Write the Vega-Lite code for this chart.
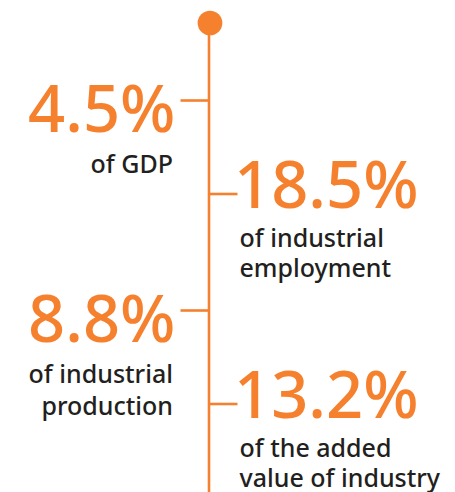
{
  "$schema": "https://vega.github.io/schema/vega-lite/v6.json",
  "width": 455,
  "height": 492,
  "padding": 0,
  "autosize": {"type": "none"},
  "background": "white",
  "config": {"view": {"stroke": null}},
  "data": {
    "values": [
      {"order": 1, "side": "left", "value": "4.5%", "label": ["of GDP"]},
      {"order": 2, "side": "right", "value": "18.5%", "label": ["of industrial", "employment"]},
      {"order": 3, "side": "left", "value": "8.8%", "label": ["of industrial", "production"]},
      {"order": 4, "side": "right", "value": "13.2%", "label": ["of the added", "value of industry"]}
    ]
  },
  "layer": [
    {
      "data": {"values": [{"part": "spine"}]},
      "mark": {"type": "rule", "color": "#F5812F", "strokeWidth": 2.6},
      "encoding": {
        "x": {"datum": 0, "type": "quantitative", "scale": {"domain": [-1, 1], "range": [180.5, 237.5], "nice": false, "zero": false}, "axis": null},
        "y": {"datum": 0.262, "type": "quantitative", "scale": {"domain": [1, 3], "range": [100.5, 310.5], "nice": false, "zero": false}, "axis": null},
        "y2": {"datum": 4.75}
      }
    },
    {
      "data": {"values": [{"part": "dot"}]},
      "mark": {"type": "point", "filled": true, "color": "#F5812F", "opacity": 1, "size": 610, "xOffset": 1},
      "encoding": {
        "x": {"datum": 0, "type": "quantitative"},
        "y": {"datum": 0.262, "type": "quantitative"}
      }
    },
    {
      "transform": [{"filter": "datum.side === 'left'"}],
      "mark": {"type": "rule", "color": "#F5812F", "strokeWidth": 2.6},
      "encoding": {
        "x": {"datum": -1, "type": "quantitative"},
        "x2": {"datum": 0},
        "y": {"field": "order", "type": "quantitative"}
      }
    },
    {
      "transform": [{"filter": "datum.side === 'right'"}],
      "mark": {"type": "rule", "color": "#F5812F", "strokeWidth": 2.6, "yOffset": -11.5},
      "encoding": {
        "x": {"datum": 0, "type": "quantitative"},
        "x2": {"datum": 1},
        "y": {"field": "order", "type": "quantitative"}
      }
    },
    {
      "transform": [{"filter": "datum.side === 'left'"}],
      "mark": {"type": "text", "font": "Noto Sans", "fontSize": 65, "fontWeight": 500, "color": "#F5812F", "align": "right", "baseline": "alphabetic", "dx": -33.5, "dy": 31},
      "encoding": {
        "x": {"datum": 0, "type": "quantitative"},
        "y": {"field": "order", "type": "quantitative"},
        "text": {"field": "value", "type": "nominal"}
      }
    },
    {
      "transform": [{"filter": "datum.side === 'right'"}],
      "mark": {"type": "text", "font": "Noto Sans", "fontSize": 65, "fontWeight": 500, "color": "#F5812F", "align": "left", "baseline": "alphabetic", "dx": 25, "dy": 2.5},
      "encoding": {
        "x": {"datum": 0, "type": "quantitative"},
        "y": {"field": "order", "type": "quantitative"},
        "text": {"field": "value", "type": "nominal"}
      }
    },
    {
      "transform": [{"filter": "datum.side === 'left'"}],
      "mark": {"type": "text", "font": "Noto Sans", "fontSize": 25, "fontWeight": 500, "color": "#231F20", "align": "right", "baseline": "alphabetic", "dx": -36, "dy": 72.5, "lineHeight": 32},
      "encoding": {
        "x": {"datum": 0, "type": "quantitative"},
        "y": {"field": "order", "type": "quantitative"},
        "text": {"field": "label", "type": "nominal"}
      }
    },
    {
      "transform": [{"filter": "datum.side === 'right'"}],
      "mark": {"type": "text", "font": "Noto Sans", "fontSize": 25, "fontWeight": 500, "color": "#231F20", "align": "left", "baseline": "alphabetic", "dx": 30.5, "dy": 41, "lineHeight": 30},
      "encoding": {
        "x": {"datum": 0, "type": "quantitative"},
        "y": {"field": "order", "type": "quantitative"},
        "text": {"field": "label", "type": "nominal"}
      }
    }
  ]
}
